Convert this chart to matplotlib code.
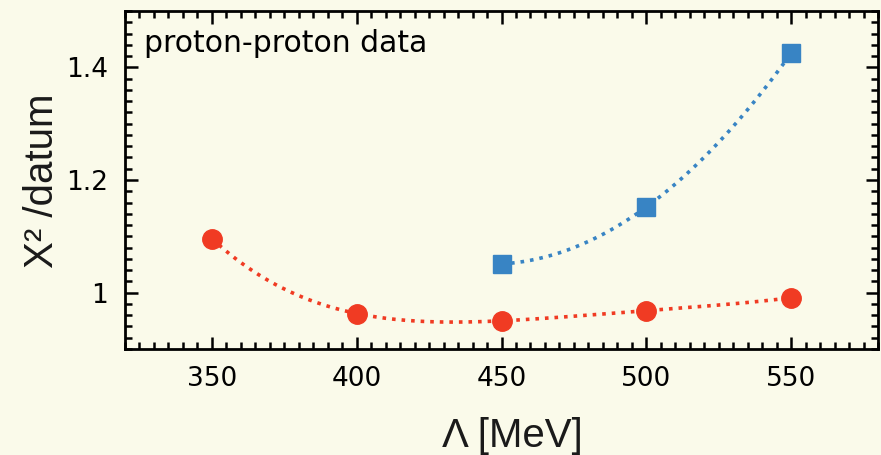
import numpy as np
import matplotlib.pyplot as plt
from matplotlib.ticker import MultipleLocator

# cutoff Lambda [MeV]
lam_red = [350, 400, 450, 500, 550]
chi_red = [1.096, 0.963, 0.950, 0.968, 0.991]
lam_blue = [450, 500, 550]
chi_blue = [1.051, 1.152, 1.425]

bg = '#fafaea'
red = '#f03b23'
blue = '#3884c4'

fig = plt.figure(figsize=(8.81, 4.55), dpi=100, facecolor=bg)
ax = fig.add_axes([125/881, 1-349/455, 753/881, 338/455], facecolor=bg)

# smooth curves through the points
for x, y, c, deg in [(lam_red, chi_red, red, 4), (lam_blue, chi_blue, blue, 2)]:
    p = np.polyfit(x, y, deg)
    xs = np.linspace(min(x), max(x), 200)
    ax.plot(xs, np.polyval(p, xs), ':', color=c, lw=2.6, zorder=2)

ax.plot(lam_red, chi_red, 'o', color=red, ms=14, zorder=3)
ax.plot(lam_blue, chi_blue, 's', color=blue, ms=13.5, zorder=3)

ax.set_xlim(320, 580)
ax.set_ylim(0.9, 1.5)
ax.xaxis.set_major_locator(MultipleLocator(50))
ax.xaxis.set_minor_locator(MultipleLocator(5))
ax.yaxis.set_minor_locator(MultipleLocator(0.02))
ax.set_yticks([1.0, 1.2, 1.4])
ax.set_yticklabels(['1', '1.2', '1.4'])
ax.tick_params(which='both', direction='in', top=True, right=True, width=1.8, labelsize=19)
ax.tick_params(which='major', length=9, pad=12)
ax.tick_params(which='minor', length=5)
for s in ax.spines.values():
    s.set_linewidth(2)

ax.text(0.025, 0.905, 'proton-proton data', transform=ax.transAxes, fontsize=21.5, va='center')

ax.set_xlabel('Λ [MeV]', fontsize=29, family='Liberation Sans', color='#1a1a1a')
ax.xaxis.label.set_va('baseline')
ax.xaxis.set_label_coords(0.5146, -0.290)
ax.set_ylabel('Χ² /datum', fontsize=29, family='Liberation Sans', color='#1a1a1a')
ax.yaxis.label.set_va('baseline')
ax.yaxis.set_label_coords(-0.0956, 0.4985)

fig.savefig('out.png', dpi=100, facecolor=bg)
